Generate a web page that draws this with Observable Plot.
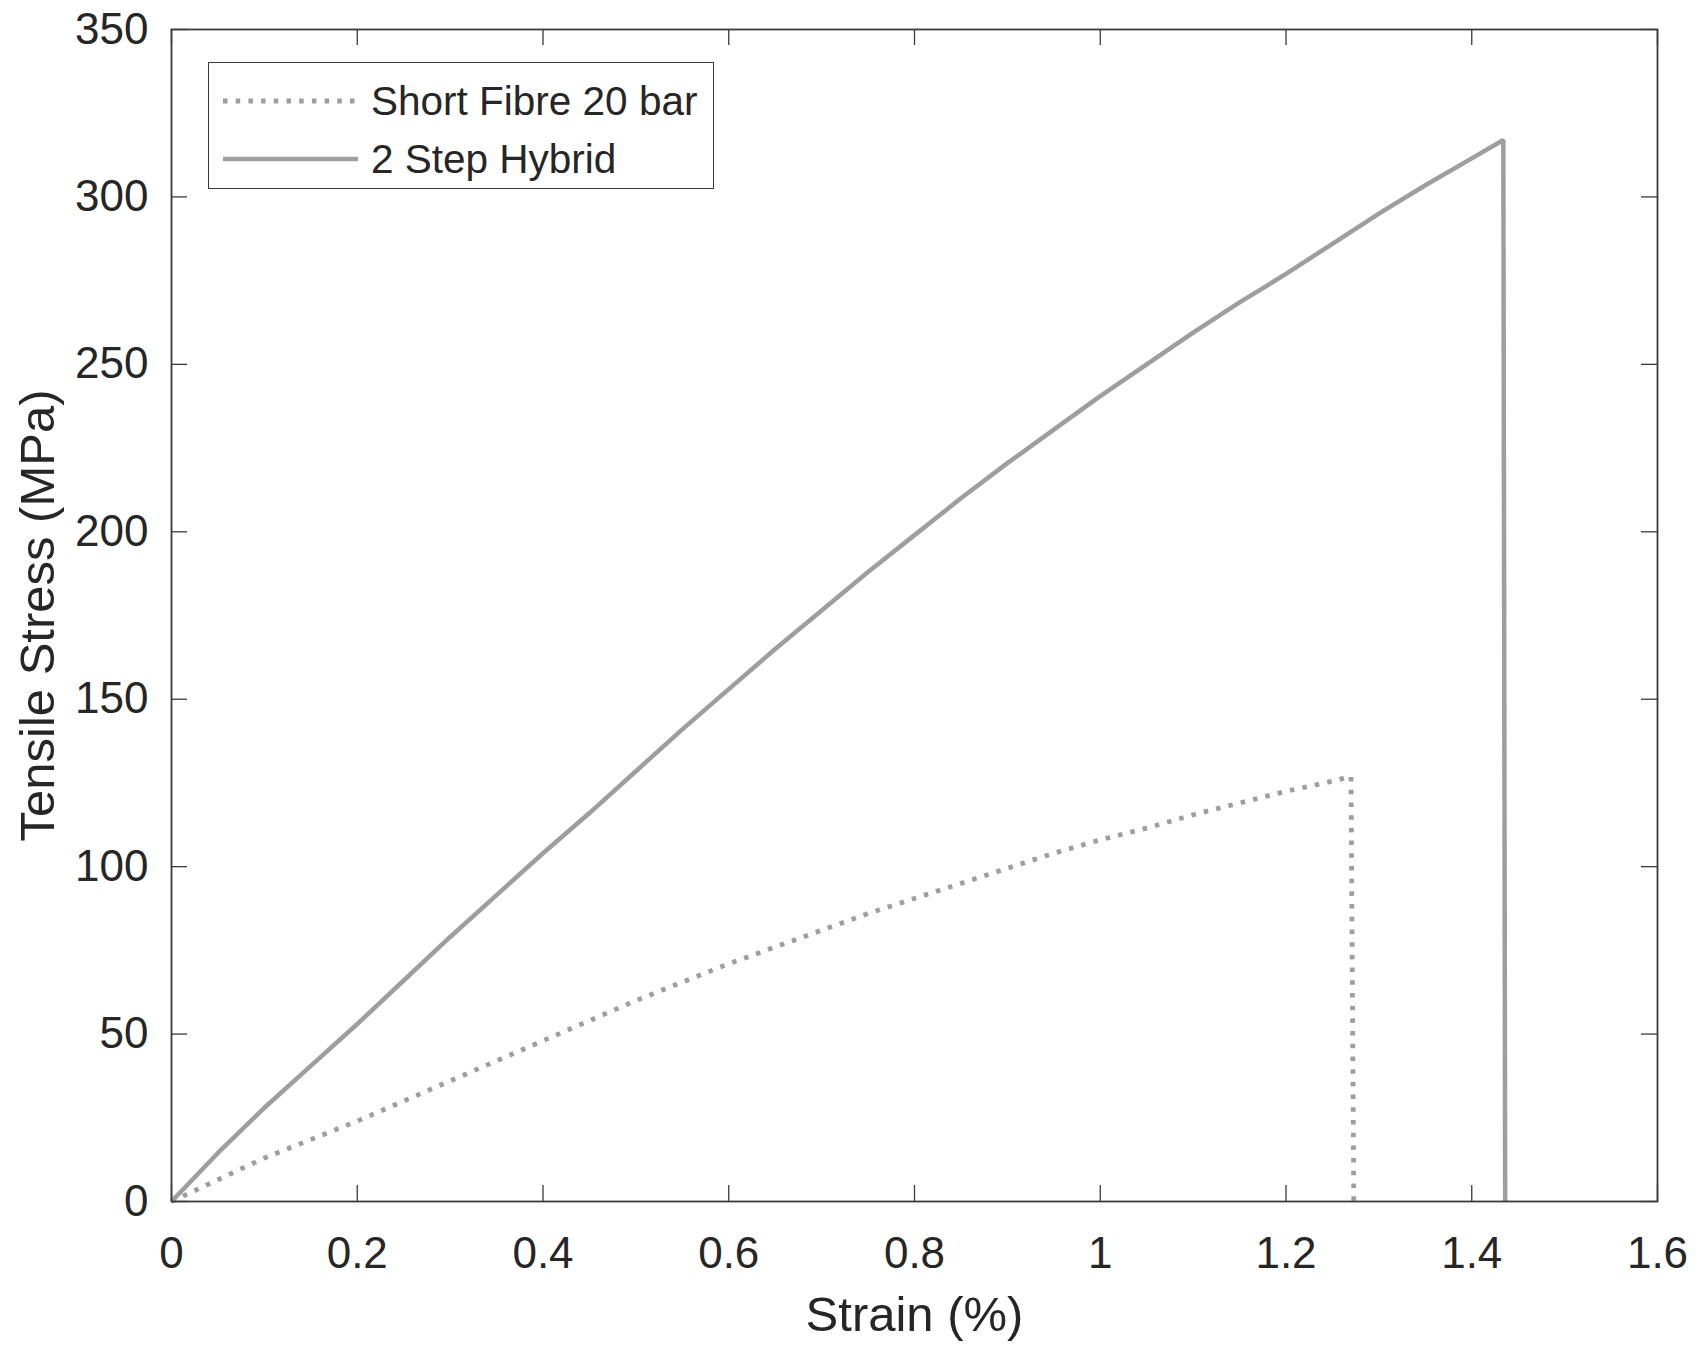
<!DOCTYPE html>
<html>
<head>
<meta charset="utf-8">
<script src="https://cdn.jsdelivr.net/npm/d3@7"></script>
<script src="https://cdn.jsdelivr.net/npm/@observablehq/plot@0.6"></script>
<style>
  html, body { margin: 0; padding: 0; background: #fff; }
  #chart { position: relative; width: 1697px; height: 1345px; font-family: "Liberation Sans", Arial, sans-serif; color: #262626; }
  #legend {
    position: absolute; left: 208px; top: 62px; width: 504px; height: 125px;
    border: 1.6px solid #3a3a3a; background: #fff;
  }
  #legend .row { position: absolute; left: 14px; height: 46px; display: flex; align-items: center; }
  #legend .row span { font-size: 40.5px; margin-left: 13px; white-space: nowrap; }
</style>
</head>
<body>
<div id="chart"></div>
<script>
// Strain (%) and tensile stress (MPa) for the two specimens
const shortFibreStrain = [0, 0.05, 0.1, 0.15, 0.2, 0.25, 0.3, 0.35, 0.4, 0.45, 0.5, 0.55, 0.6, 0.65, 0.7, 0.75, 0.8, 0.85, 0.9, 0.95, 1.0, 1.05, 1.1, 1.15, 1.2, 1.25, 1.27, 1.273];
const shortFibreStress = [0, 6.5, 13, 18.5, 24, 30, 36, 42, 48, 54, 60, 65.5, 71, 76, 81, 86, 90.5, 95, 99.5, 104, 108, 111.5, 115.5, 119, 122.5, 125.5, 127, 0];

const hybridStrain = [0, 0.05, 0.1, 0.15, 0.2, 0.25, 0.3, 0.35, 0.4, 0.45, 0.5, 0.55, 0.6, 0.65, 0.7, 0.75, 0.8, 0.85, 0.9, 0.95, 1.0, 1.05, 1.1, 1.15, 1.2, 1.25, 1.3, 1.35, 1.4, 1.434, 1.436];
const hybridStress = [0, 14.5, 28, 40.5, 53, 66, 79, 91.5, 104, 116, 128.5, 141, 153, 165, 176.5, 188, 199, 210, 220.5, 230.5, 240.5, 250, 259.5, 268.5, 277, 286, 295, 303.5, 311.5, 317, 0];

const seriesNames = ["Short Fibre 20 bar", "2 Step Hybrid"];

const xTicks = [0, 0.2, 0.4, 0.6, 0.8, 1.0, 1.2, 1.4, 1.6];
const xTickLabels = ["0", "0.2", "0.4", "0.6", "0.8", "1", "1.2", "1.4", "1.6"];
const yTicks = [0, 50, 100, 150, 200, 250, 300, 350];
const yTickLabels = ["0", "50", "100", "150", "200", "250", "300", "350"];

const xTitle = "Strain (%)";
const yTitle = "Tensile Stress (MPa)";

const shortFibre = shortFibreStrain.map((x, i) => ({x, y: shortFibreStress[i]}));
const hybrid = hybridStrain.map((x, i) => ({x, y: hybridStress[i]}));

const W = 1697, H = 1345;
const mL = 171, mR = 40, mT = 29, mB = 144;
const innerW = W - mL - mR, innerH = H - mT - mB;
const tickLen = 16;
const axisColor = "#3a3a3a";
const lineColor = "#9e9e9e";
const dotted = "4.5,8.2";

const plot = Plot.plot({
  width: W,
  height: H,
  marginLeft: mL,
  marginRight: mR,
  marginTop: mT,
  marginBottom: mB,
  style: {fontFamily: "Liberation Sans, Arial, sans-serif", fontSize: "44px", color: "#262626", background: "#fff", overflow: "visible"},
  x: {domain: [0, 1.6]},
  y: {domain: [0, 350]},
  marks: [
    // tick labels
    Plot.axisX(xTicks, {tickSize: 0, tickPadding: 35, tickFormat: (d, i) => xTickLabels[i], fill: "#262626", label: null}),
    Plot.axisY(yTicks, {tickSize: 0, tickPadding: 23, tickFormat: (d, i) => yTickLabels[i], fill: "#262626", label: null}),
    // inward ticks on all four sides
    Plot.tickX(xTicks, {x: d => d, insetTop: innerH - tickLen, stroke: axisColor, strokeWidth: 1.3}),
    Plot.tickX(xTicks, {x: d => d, insetBottom: innerH - tickLen, stroke: axisColor, strokeWidth: 1.3}),
    Plot.tickY(yTicks, {y: d => d, insetRight: innerW - tickLen, stroke: axisColor, strokeWidth: 1.3}),
    Plot.tickY(yTicks, {y: d => d, insetLeft: innerW - tickLen, stroke: axisColor, strokeWidth: 1.3}),
    // curves
    Plot.line(shortFibre, {x: "x", y: "y", stroke: lineColor, strokeWidth: 4.8, strokeDasharray: dotted, strokeLinecap: "butt", strokeLinejoin: "miter"}),
    Plot.line(hybrid, {x: "x", y: "y", stroke: lineColor, strokeWidth: 4.5, strokeLinecap: "butt", strokeLinejoin: "miter"}),
    Plot.frame({stroke: axisColor, strokeWidth: 1.8}),
    // axis titles
    Plot.text([xTitle], {text: d => d, frameAnchor: "bottom", dy: 114, fontSize: 49, fill: "#262626", lineAnchor: "middle"}),
    Plot.text([yTitle], {text: d => d, frameAnchor: "left", textAnchor: "middle", dx: -133, rotate: -90, fontSize: 49, fill: "#262626", lineAnchor: "middle"})
  ]
});

const chart = document.getElementById("chart");
chart.appendChild(plot);

// legend box over the upper-left corner of the axes
const legend = document.createElement("div");
legend.id = "legend";
const dashes = [dotted, null];
seriesNames.forEach((name, i) => {
  const row = document.createElement("div");
  row.className = "row";
  row.style.top = (i === 0 ? 15 : 73) + "px";
  const svgNS = "http://www.w3.org/2000/svg";
  const s = document.createElementNS(svgNS, "svg");
  s.setAttribute("width", "135");
  s.setAttribute("height", "10");
  const l = document.createElementNS(svgNS, "line");
  l.setAttribute("x1", "0"); l.setAttribute("x2", "135");
  l.setAttribute("y1", "5"); l.setAttribute("y2", "5");
  l.setAttribute("stroke", lineColor);
  l.setAttribute("stroke-width", i === 0 ? "4.8" : "4.5");
  if (dashes[i]) l.setAttribute("stroke-dasharray", dashes[i]);
  s.appendChild(l);
  const t = document.createElement("span");
  t.textContent = name;
  row.appendChild(s);
  row.appendChild(t);
  legend.appendChild(row);
});
chart.appendChild(legend);
</script>
</body>
</html>
